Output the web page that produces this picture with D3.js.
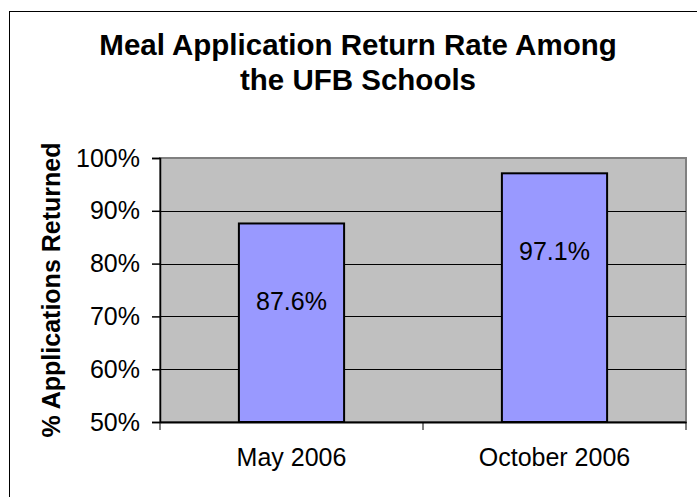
<!DOCTYPE html>
<html>
 <head>
  <meta charset="utf-8">
  <title>Meal Application Return Rate</title>
  <script src="https://cdn.jsdelivr.net/npm/d3@7"></script>
  <style>
    body {
        margin: 0;
        background: #fff;
        font-family: "Liberation Sans", Arial, Helvetica, sans-serif;
    }
    svg text {
        fill: #000;
    }
  </style>
 </head>
 <body>
  <div id="chart"></div>
  <script type="application/javascript">
    // chart data
    var categories = ['May 2006', 'October 2006'];
    var values = [0.876, 0.971];
    var labels = ['87.6%', '97.1%'];
    var yTicks = [0.5, 0.6, 0.7, 0.8, 0.9, 1.0];
    var titleLines = ['Meal Application Return Rate Among', 'the UFB Schools'];
    var yTitle = '% Applications Returned';

    var W = 697, H = 497;
    var plot = {left: 160, right: 686, top: 158, bottom: 422};

    var svg = d3.select('#chart').append('svg')
      .attr('width', W).attr('height', H);

    // outer chart border (only top and left fall inside the picture)
    svg.append('rect')
      .attr('x', 9.5).attr('y', 11.5)
      .attr('width', 720).attr('height', 520)
      .attr('fill', 'none').attr('stroke', '#000').attr('stroke-width', 1);

    var x = d3.scaleBand().domain(categories)
      .range([plot.left, plot.right]).paddingInner(0).paddingOuter(0);
    var y = d3.scaleLinear().domain([0.5, 1.0]).range([plot.bottom, plot.top]);

    // plot area
    svg.append('rect')
      .attr('x', plot.left).attr('y', plot.top)
      .attr('width', plot.right - plot.left).attr('height', plot.bottom - plot.top)
      .attr('fill', '#c0c0c0').attr('stroke', '#808080').attr('stroke-width', 2);

    // gridlines
    svg.append('g').selectAll('line')
      .data(yTicks.slice(1, -1))
      .enter().append('line')
        .attr('x1', plot.left).attr('x2', plot.right)
        .attr('y1', function(d) { return Math.round(y(d)) + 0.5; })
        .attr('y2', function(d) { return Math.round(y(d)) + 0.5; })
        .attr('stroke', '#000').attr('stroke-width', 1);

    // bars
    var bw = x.bandwidth() * 0.4;
    svg.append('g').selectAll('rect')
      .data(values)
      .enter().append('rect')
        .attr('x', function(d, i) { return x(categories[i]) + (x.bandwidth() - bw) / 2; })
        .attr('y', function(d) { return y(d); })
        .attr('width', bw)
        .attr('height', function(d) { return plot.bottom - y(d); })
        .attr('fill', '#9999ff').attr('stroke', '#000').attr('stroke-width', 2);

    // data labels
    svg.append('g').selectAll('text')
      .data(values)
      .enter().append('text')
        .attr('x', function(d, i) { return x(categories[i]) + x.bandwidth() / 2; })
        .attr('y', function(d) { return y(d) + 87; })
        .attr('text-anchor', 'middle')
        .style('font-size', '25px')
        .text(function(d, i) { return labels[i]; });

    // y axis
    var yAxis = d3.axisLeft(y).tickValues(yTicks)
      .tickFormat(d3.format('.0%')).tickSize(8).tickPadding(12);
    var gy = svg.append('g')
      .attr('transform', 'translate(' + plot.left + ',0)')
      .call(yAxis);
    gy.selectAll('text').style('font-size', '25px')
      .style('font-family', '"Liberation Sans", Arial, sans-serif');
    gy.selectAll('line, path').attr('stroke', '#000').attr('stroke-width', 1.5);

    // x axis
    var xAxis = d3.axisBottom(x).tickSize(0).tickPadding(26);
    var gx = svg.append('g')
      .attr('transform', 'translate(0,' + plot.bottom + ')')
      .call(xAxis);
    gx.select('.domain').attr('stroke', '#000').attr('stroke-width', 2);
    gx.selectAll('text').style('font-size', '25px')
      .style('font-family', '"Liberation Sans", Arial, sans-serif');
    // tick marks between categories
    var bounds = [plot.left, plot.left + x.bandwidth(), plot.right];
    gx.selectAll('.sep').data(bounds).enter().append('line')
      .attr('class', 'sep')
      .attr('x1', function(d) { return d; }).attr('x2', function(d) { return d; })
      .attr('y1', 0).attr('y2', 8)
      .attr('stroke', '#000').attr('stroke-width', 1);

    // y title
    svg.append('text')
      .attr('transform', 'translate(60,290) rotate(-90)')
      .attr('text-anchor', 'middle')
      .style('font-size', '25px').style('font-weight', 'bold')
      .text(yTitle);

    // chart title
    svg.append('g').selectAll('text')
      .data(titleLines)
      .enter().append('text')
        .attr('x', 358)
        .attr('y', function(d, i) { return 54.5 + i * 35.5; })
        .attr('text-anchor', 'middle')
        .style('font-size', '29.5px').style('font-weight', 'bold')
        .text(function(d) { return d; });
  </script>
 </body>
</html>
